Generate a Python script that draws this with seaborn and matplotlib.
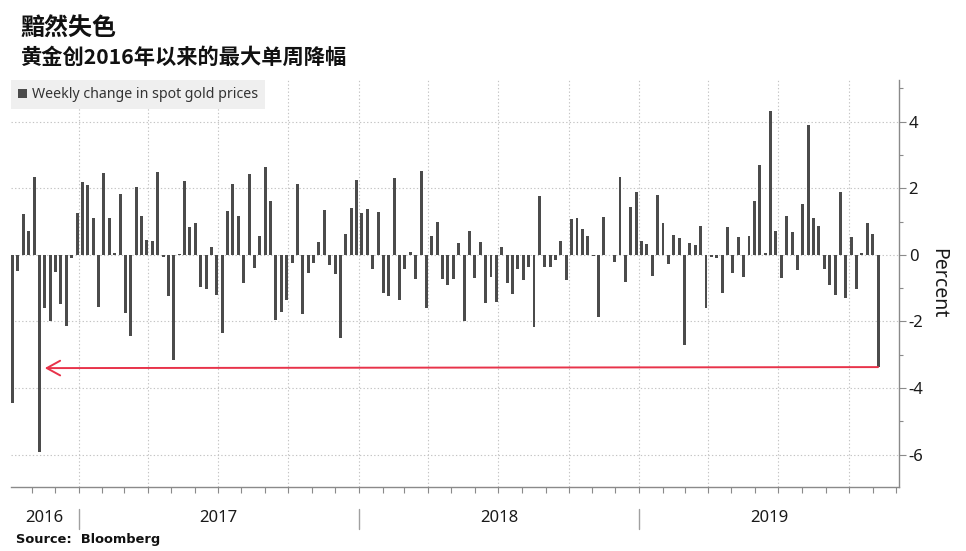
import numpy as np
import pandas as pd
import matplotlib
matplotlib.use("Agg")
import matplotlib.pyplot as plt
import matplotlib.dates as mdates
from matplotlib.ticker import MultipleLocator
from matplotlib.patches import Patch
import seaborn as sns

# ---------------- data ----------------
weekly_change = [
    -4.45, -0.47, 1.23, 0.71, 2.33, -5.92, -1.61, -2.00, -0.51, -1.48,
    -2.15, -0.10, 1.26, 2.19, 2.11, 1.10, -1.58, 2.45, 1.10, 0.07,
    1.82, -1.76, -2.44, 2.04, 1.16, 0.44, 0.42, 2.49, -0.07, -1.25,
    -3.16, 0.02, 2.23, 0.85, 0.97, -0.97, -1.02, 0.24, -1.20, -2.35,
    1.33, 2.13, 1.16, -0.85, 2.42, -0.40, 0.57, 2.63, 1.61, -1.97,
    -1.72, -1.35, -0.23, 2.13, -1.77, -0.54, -0.25, 0.40, 1.35, -0.30,
    -0.58, -2.51, 0.64, 1.40, 2.25, 1.27, 1.38, -0.42, 1.30, -1.15,
    -1.25, 2.30, -1.35, -0.43, 0.08, -0.73, 2.52, -1.61, 0.57, 0.99,
    -0.73, -0.92, -0.71, 0.35, -1.99, 0.71, -0.68, 0.38, -1.45, -0.65,
    -1.41, 0.24, -0.86, -1.17, -0.41, -0.75, -0.35, -2.18, 1.77, -0.35,
    -0.35, -0.16, 0.42, -0.75, 1.07, 1.11, 0.78, 0.57, -0.04, -1.86,
    1.13, 0.01, -0.21, 2.34, -0.82, 1.44, 1.89, 0.42, 0.32, -0.63,
    1.79, 0.97, -0.28, 0.61, 0.52, -2.70, 0.37, 0.29, 0.88, -1.61,
    -0.05, -0.09, -1.15, 0.83, -0.54, 0.54, -0.66, 0.57, 1.61, 2.70,
    0.07, 4.31, 0.71, -0.70, 1.16, 0.69, -0.44, 1.53, 3.89, 1.12,
    0.87, -0.42, -0.90, -1.20, 1.89, -1.30, 0.53, -1.04, 0.07, 0.97,
    0.64, -3.37,
]
first_week = "2016-10-07"
week_dates = pd.date_range(first_week, periods=len(weekly_change), freq="W-FRI")
year_labels = ["2016", "2017", "2018", "2019"]
y_ticks = [-6, -4, -2, 0, 2, 4]

title = "黯然失色"
subtitle = "黄金创2016年以来的最大单周降幅"
legend_label = "Weekly change in spot gold prices"
source_text = "Source:  Bloomberg"
y_label = "Percent"

# ---------------- style ----------------
sns.set_theme(style="white")
plt.rcParams["font.family"] = ["Noto Sans", "DejaVu Sans"]

BAR = "#4b4b4b"
GRID = "#c4c4c4"
AXIS = "#8a8a8a"
TXT = "#1a1a1a"
RED = "#e8334a"

df = pd.DataFrame({"x": mdates.date2num(week_dates), "change": weekly_change})

W, H = 966, 551
fig = plt.figure(figsize=(W / 100, H / 100), dpi=100)
left_px, right_px, top_px, bot_px = 11, 899, 80, 487
ax = fig.add_axes([left_px / W, 1 - bot_px / H,
                   (right_px - left_px) / W, (bot_px - top_px) / H])

sns.barplot(data=df, x="x", y="change", native_scale=True, orient="x",
            color=BAR, saturation=1, width=0.55, linewidth=0,
            errorbar=None, ax=ax, zorder=3)

x0 = df["x"].iloc[0] - 2
x1 = df["x"].iloc[-1] + 27.3
ax.set_xlim(x0, x1)
ax.set_ylim(-6.97, 5.25)

# spines
for s in ["top", "left"]:
    ax.spines[s].set_visible(False)
ax.spines["bottom"].set_color(AXIS)
ax.spines["right"].set_color(AXIS)
ax.spines["bottom"].set_linewidth(1.0)
ax.spines["right"].set_linewidth(1.0)

# y axis on the right
ax.yaxis.tick_right()
ax.yaxis.set_label_position("right")
ax.set_yticks(y_ticks)
ax.set_yticklabels([str(t) for t in y_ticks])
ax.yaxis.set_minor_locator(MultipleLocator(1))
ax.tick_params(axis="y", which="major", direction="out", length=5, width=0.8,
               color=AXIS, labelsize=12, labelcolor=TXT, pad=2, right=True, left=False)
ax.tick_params(axis="y", which="minor", direction="out", length=3, width=0.8,
               color=AXIS, right=True, left=False)
ax.set_ylabel(y_label, rotation=-90, fontsize=14, color=TXT, labelpad=18)

# x axis: quarterly grid, monthly ticks, no labels
ax.xaxis.set_major_locator(mdates.MonthLocator(bymonth=[1, 4, 7, 10]))
ax.xaxis.set_minor_locator(mdates.MonthLocator())
ax.tick_params(axis="x", which="both", direction="out", length=4, width=0.8,
               color=AXIS, labelbottom=False, bottom=True)
ax.set_xlabel("")

ax.grid(True, which="major", axis="both", color=GRID, linestyle=(0, (1.2, 2)),
        linewidth=0.8, zorder=0)
ax.set_axisbelow(True)

# year separators and labels below the axis
trans = ax.get_xaxis_transform()
h_ax = bot_px - top_px
y_sep0 = (bot_px - 509) / h_ax
y_sep1 = (bot_px - 529) / h_ax
y_lab = (bot_px - 518) / h_ax
bounds = [x0] + [mdates.date2num(pd.Timestamp(f"{y}-01-01")) for y in (2017, 2018, 2019)] + [x1]
for b in bounds[1:-1]:
    ax.plot([b, b], [y_sep0, y_sep1], transform=trans, color="#a0a0a0",
            lw=1.0, clip_on=False)
for i, lab in enumerate(year_labels):
    ax.text((bounds[i] + bounds[i + 1]) / 2, y_lab, lab, transform=trans,
            ha="center", va="center", fontsize=12, color=TXT)

# red arrow from latest drop back to the 2016 drop
ax.annotate("", xy=(df["x"].iloc[6], -3.40), xytext=(df["x"].iloc[-1], -3.37),
            arrowprops=dict(arrowstyle="->,head_length=0.6,head_width=0.33",
                            color=RED, lw=1.4, shrinkA=0, shrinkB=0,
                            mutation_scale=16),
            zorder=5)

# legend
leg = ax.legend(handles=[Patch(facecolor=BAR, edgecolor="none", label=legend_label)],
                loc="upper left", bbox_to_anchor=(0, 1), borderaxespad=0,
                frameon=True, fancybox=False, facecolor="#efefef", edgecolor="none",
                framealpha=1, fontsize=10.2, handlelength=0.6, handleheight=0.6,
                handletextpad=0.35, borderpad=0.5)
for t in leg.get_texts():
    t.set_color("#333333")

# titles and source
cjk = ["Noto Sans CJK SC", "DejaVu Sans"]
fig.text(20 / W, 1 - 29 / H, title, fontsize=17.3, fontweight="bold",
         family=cjk, va="center", ha="left", color="#111111")
fig.text(20 / W, 1 - 57 / H, subtitle, fontsize=15.3, fontweight="bold",
         family=cjk, va="center", ha="left", color="#111111")
fig.text(16 / W, 1 - 539.5 / H, source_text, fontsize=9.4, fontweight="bold",
         family=["DejaVu Sans"], va="center", ha="left", color="#111111")

fig.savefig("out.png", dpi=100)
